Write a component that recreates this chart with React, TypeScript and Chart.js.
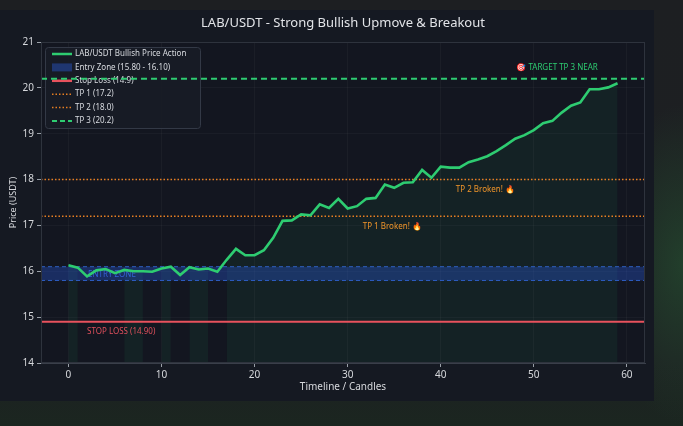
import React, { useEffect, useRef } from "react";
import { Chart, registerables } from "chart.js";

Chart.register(...registerables);

const PRICE = [
  16.13, 16.08, 15.89, 16.02, 16.05, 15.96, 16.03, 16.0, 16.0, 15.99,
  16.06, 16.1, 15.92, 16.09, 16.04, 16.06, 15.99, 16.25, 16.49, 16.35,
  16.35, 16.46, 16.73, 17.1, 17.11, 17.24, 17.22, 17.46, 17.38, 17.58,
  17.37, 17.42, 17.58, 17.6, 17.89, 17.82, 17.93, 17.94, 18.21, 18.04,
  18.28, 18.26, 18.26, 18.38, 18.44, 18.51, 18.62, 18.75, 18.89, 18.97,
  19.08, 19.23, 19.28, 19.46, 19.61, 19.68, 19.97, 19.97, 20.01, 20.1,
];
const HIGHLIGHT_RANGES = [[0, 1], [6, 8], [10, 11], [13, 15], [17, 59]];
const ENTRY_LOW = 15.8;
const ENTRY_HIGH = 16.1;
const STOP_LOSS = 14.9;
const TP1 = 17.2;
const TP2 = 18.0;
const TP3 = 20.2;
const X_MIN = -2.95;
const X_MAX = 61.95;
const X_TICKS = [0, 10, 20, 30, 40, 50, 60];
const Y_TICKS = [14, 15, 16, 17, 18, 19, 20, 21];

const TITLE = "LAB/USDT - Strong Bullish Upmove & Breakout";
const LEGEND_LABELS = [
  "LAB/USDT Bullish Price Action",
  "Entry Zone (15.80 - 16.10)",
  "Stop Loss (14.9)",
  "TP 1 (17.2)",
  "TP 2 (18.0)",
  "TP 3 (20.2)",
];
const ANNOTATIONS = [
  { text: "ENTRY ZONE", x: 2.1, y: 15.92, align: "left", color: "#3a66d6", layer: "below" },
  { text: "STOP LOSS (14.90)", x: 2.0, y: 14.68, align: "left", color: "#e0505c", layer: "above" },
  { text: "TP 1 Broken! 🔥", x: 34.8, y: 16.97, align: "center", color: "#f0952a", layer: "above" },
  { text: "TP 2 Broken! 🔥", x: 44.8, y: 17.78, align: "center", color: "#f0952a", layer: "above" },
  { text: "🎯 TARGET TP 3 NEAR", x: 52.5, y: 20.45, align: "center", color: "#2ecc71", layer: "above" },
];

const FONT = "'Noto Sans', 'DejaVu Sans', sans-serif";
const GREEN = "#2ecc71";
const RED = "#e8525d";
const ORANGE = "#e67e22";
const BLUE_FILL = "rgba(40,90,220,0.35)";
const BLUE_LINE = "#2f5fbf";

const hline = (y: number) => [
  { x: X_MIN, y },
  { x: X_MAX, y },
];

const inHighlight = (i: number) =>
  HIGHLIGHT_RANGES.some(([a, b]) => i >= a && i <= b);

const overlayPlugin = {
  id: "overlay",
  beforeDraw(chart: any) {
    const { ctx, chartArea: a } = chart;
    ctx.save();
    ctx.fillStyle = "#131620";
    ctx.fillRect(a.left, a.top, a.right - a.left, a.bottom - a.top);
    ctx.restore();
  },
  beforeDatasetsDraw(chart: any) {
    const { ctx } = chart;
    // legend
    ctx.save();
    const bx = 45, by = 37, bw = 155, bh = 81;
    ctx.fillStyle = "rgba(24,28,38,0.9)";
    ctx.strokeStyle = "#333946";
    ctx.lineWidth = 1;
    ctx.beginPath();
    ctx.roundRect(bx + 0.5, by + 0.5, bw, bh, 3);
    ctx.fill();
    ctx.stroke();
    const rowY = (i: number) => by + 7 + i * 13.4;
    const hx0 = 52, hx1 = 72;
    LEGEND_LABELS.forEach((label, i) => {
      const y = rowY(i);
      ctx.setLineDash([]);
      if (i === 1) {
        ctx.fillStyle = "#1f3670";
        ctx.fillRect(hx0, y - 4, hx1 - hx0, 8);
      } else {
        ctx.beginPath();
        if (i === 0) { ctx.strokeStyle = GREEN; ctx.lineWidth = 2.5; }
        if (i === 2) { ctx.strokeStyle = RED; ctx.lineWidth = 2.5; }
        if (i === 3 || i === 4) { ctx.strokeStyle = ORANGE; ctx.lineWidth = 1.5; ctx.setLineDash([1.5, 2]); }
        if (i === 5) { ctx.strokeStyle = GREEN; ctx.lineWidth = 2; ctx.setLineDash([5, 3]); }
        ctx.moveTo(hx0, y);
        ctx.lineTo(hx1, y);
        ctx.stroke();
      }
      ctx.setLineDash([]);
      ctx.fillStyle = "#d8dbe0";
      ctx.font = `8px ${FONT}`;
      ctx.textAlign = "left";
      ctx.textBaseline = "middle";
      ctx.fillText(label, 75, y);
    });
    ctx.restore();
    drawAnnotations(chart, "below");
  },
  afterDatasetsDraw(chart: any) {
    drawAnnotations(chart, "above");
  },
  afterDraw(chart: any) {
    const { ctx, chartArea: a } = chart;
    ctx.save();
    ctx.strokeStyle = "#2e333d";
    ctx.lineWidth = 1;
    ctx.strokeRect(a.left + 0.5, a.top + 0.5, a.right - a.left - 1, a.bottom - a.top - 1);
    ctx.fillStyle = "#e2e4e8";
    ctx.font = `13px ${FONT}`;
    ctx.textAlign = "center";
    ctx.textBaseline = "middle";
    ctx.fillText(TITLE, (a.left + a.right) / 2, 13);
    ctx.restore();
  },
};

function drawAnnotations(chart: any, layer: string) {
  const { ctx, scales } = chart;
  ctx.save();
  ctx.font = `8px ${FONT}`;
  ctx.textBaseline = "middle";
  ANNOTATIONS.filter((t) => t.layer === layer).forEach((t) => {
    ctx.fillStyle = t.color;
    ctx.textAlign = t.align;
    ctx.fillText(t.text, scales.x.getPixelForValue(t.x), scales.y.getPixelForValue(t.y));
  });
  ctx.restore();
}

export default function App() {
  const ref = useRef<HTMLCanvasElement>(null);

  useEffect(() => {
    if (!ref.current) return;
    const priceData = PRICE.map((y, i) => ({ x: i, y }));
    const highlightData = PRICE.map((y, i) => ({ x: i, y: inHighlight(i) ? y : null }));

    const chart = new Chart(ref.current, {
      type: "line",
      data: {
        datasets: [
          {
            label: "price",
            data: priceData,
            borderColor: GREEN,
            borderWidth: 2.6,
            pointRadius: 0,
            tension: 0,
            order: 0,
            fill: false,
          },
          {
            label: "highlight",
            data: highlightData as any,
            borderWidth: 0,
            borderColor: "transparent",
            backgroundColor: "rgba(46,204,113,0.07)",
            pointRadius: 0,
            spanGaps: false,
            fill: { value: 14 },
            order: 9,
          },
          {
            label: "entryHigh",
            data: hline(ENTRY_HIGH),
            borderColor: BLUE_LINE,
            borderWidth: 1,
            borderDash: [4, 3],
            backgroundColor: BLUE_FILL,
            pointRadius: 0,
            fill: "+1",
            order: 8,
          },
          {
            label: "entryLow",
            data: hline(ENTRY_LOW),
            borderColor: BLUE_LINE,
            borderWidth: 1,
            borderDash: [4, 3],
            pointRadius: 0,
            fill: false,
            order: 8,
          },
          {
            label: "stop",
            data: hline(STOP_LOSS),
            borderColor: RED,
            borderWidth: 2,
            pointRadius: 0,
            fill: false,
            order: 5,
          },
          {
            label: "tp1",
            data: hline(TP1),
            borderColor: ORANGE,
            borderWidth: 1.5,
            borderDash: [1.5, 2],
            pointRadius: 0,
            fill: false,
            order: 5,
          },
          {
            label: "tp2",
            data: hline(TP2),
            borderColor: ORANGE,
            borderWidth: 1.5,
            borderDash: [1.5, 2],
            pointRadius: 0,
            fill: false,
            order: 5,
          },
          {
            label: "tp3",
            data: hline(TP3),
            borderColor: GREEN,
            borderWidth: 2,
            borderDash: [6, 4],
            pointRadius: 0,
            fill: false,
            order: 5,
          },
        ],
      },
      options: {
        animation: false,
        responsive: false,
        devicePixelRatio: window.devicePixelRatio || 1,
        layout: { padding: { top: 32, right: 9, left: 0, bottom: 0 } },
        plugins: {
          legend: { display: false },
          title: { display: false },
          tooltip: { enabled: false },
        },
        scales: {
          x: {
            type: "linear",
            min: X_MIN,
            max: X_MAX,
            afterFit: (s: any) => { s.height = 38; },
            afterBuildTicks: (s: any) => { s.ticks = X_TICKS.map((v) => ({ value: v })); },
            ticks: { color: "#d6d8dc", font: { family: FONT, size: 10 }, padding: 2, maxRotation: 0 },
            grid: { color: "rgba(255,255,255,0.035)", tickColor: "#9aa0a8", tickLength: 4 },
            border: { color: "#3a3f4a" },
            title: {
              display: true,
              text: "Timeline / Candles",
              color: "#d6d8dc",
              font: { family: FONT, size: 10 },
              padding: { top: 0, bottom: 8 },
            },
          },
          y: {
            type: "linear",
            min: 14,
            max: 21,
            afterFit: (s: any) => { s.width = 41; },
            afterBuildTicks: (s: any) => { s.ticks = Y_TICKS.map((v) => ({ value: v })); },
            ticks: { color: "#d6d8dc", font: { family: FONT, size: 10 }, padding: 3 },
            grid: { color: "rgba(255,255,255,0.03)", tickColor: "#9aa0a8", tickLength: 4 },
            border: { color: "#3a3f4a" },
            title: {
              display: true,
              text: "Price (USDT)",
              color: "#d6d8dc",
              font: { family: FONT, size: 9 },
              padding: { top: 8, bottom: 0 },
            },
          },
        },
      },
      plugins: [overlayPlugin],
    } as any);
    return () => chart.destroy();
  }, []);

  return (
    <div
      style={{
        position: "fixed",
        left: 0,
        top: 0,
        width: 683,
        height: 426,
        overflow: "hidden",
        background:
          "radial-gradient(ellipse 80px 160px at 100% 62%, rgba(40,100,55,0.45), rgba(0,0,0,0) 100%), linear-gradient(180deg, #1d1f22 0%, #1d2022 85%, #1b2620 100%)",
      }}
    >
      <div
        style={{
          position: "absolute",
          left: 0,
          top: 10,
          width: 654,
          height: 391,
          background: "#151922",
        }}
      >
        <canvas ref={ref} width={654} height={391} style={{ display: "block", width: 654, height: 391 }} />
      </div>
    </div>
  );
}
